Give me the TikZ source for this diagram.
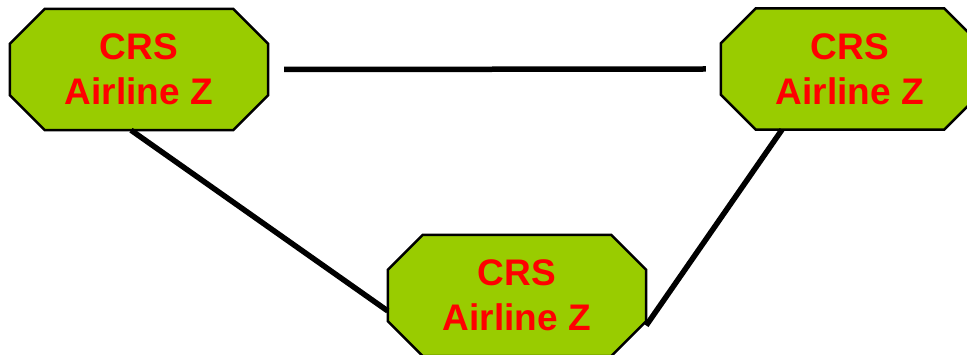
\documentclass[tikz,border=0pt]{standalone}
\usepackage{fontspec}
\setmainfont{Liberation Sans}
\usetikzlibrary{calc,backgrounds}
\definecolor{boxgreen}{HTML}{99CC00}
\definecolor{boxred}{HTML}{FF0000}
\tikzset{
  crsbox/.style={minimum width=258pt, minimum height=121pt, inner sep=0pt,
    align=center, text=boxred, font=\fontsize{37}{45}\selectfont\bfseries},
  octo/.style={fill=boxgreen, draw=black, line width=2.5pt, line join=miter},
  link/.style={draw=black, line width=5.5pt}
}
\newcommand{\octagon}[1]{%
  \path[octo] ($(#1.north west)+(35,0)$) -- ($(#1.north east)+(-35,0)$)
    -- ($(#1.north east)+(0,35)$) -- ($(#1.south east)+(0,-35)$)
    -- ($(#1.south east)+(-35,0)$) -- ($(#1.south west)+(35,0)$)
    -- ($(#1.south west)+(0,-35)$) -- ($(#1.north west)+(0,35)$) -- cycle;}
\begin{document}
\begin{tikzpicture}[x=1pt,y=-1pt]
\useasboundingbox (0,0) rectangle (967,355);
\node[crsbox] (n1) at (139,69.5) {CRS\\Airline Z};
\node[crsbox] (n3) at (850,69) {CRS\\Airline Z};
\node[crsbox] (n2) at (517,295.5) {CRS\\Airline Z};
\begin{scope}[on background layer]
  \octagon{n1}
  \octagon{n2}
  \octagon{n3}
\end{scope}
\coordinate (h1) at ($(n1.east)+(16,0)$);
\coordinate (h3) at ($(n3.west)+(-15,0)$);
\draw[link] (h1) -- (h3);
\draw[link] ($(n1.south)+(-8,0)$) -- ($(n2.west)+(0,15.5)$);
\draw[link] ($(n2.east)+(0,30)$) -- ($(n3.south)+(-68,0)$);
\end{tikzpicture}
\end{document}
